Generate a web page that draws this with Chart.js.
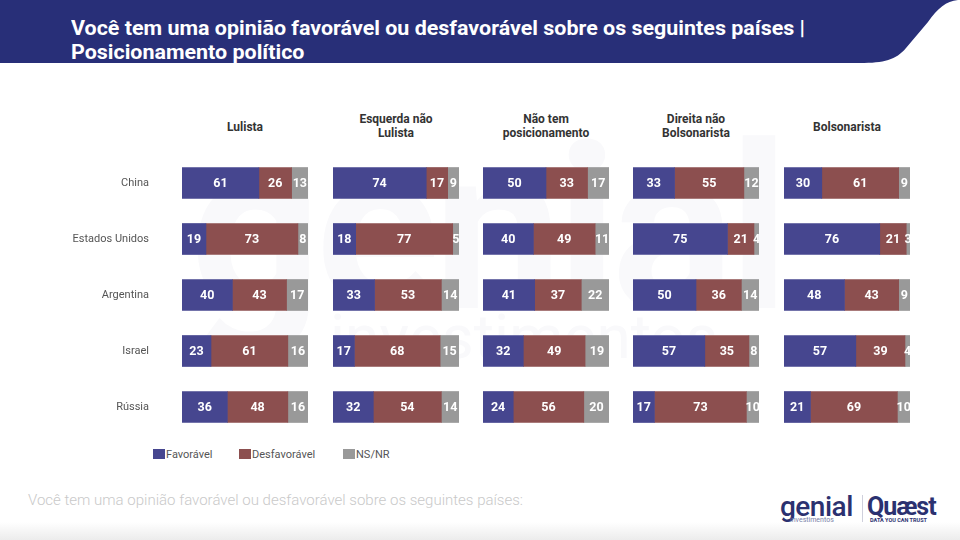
<!DOCTYPE html>
<html lang="pt-BR">
<head>
<meta charset="utf-8">
<title>Opinião sobre países por posicionamento político</title>
<script src="https://cdn.jsdelivr.net/npm/chart.js@4.4.0/dist/chart.umd.min.js"></script>
<style>
  html, body { margin: 0; padding: 0; }
  body { width: 960px; height: 540px; position: relative; overflow: hidden; background: #fff; font-family: Roboto, 'Noto Sans', sans-serif; }
  #banner { position: absolute; left: 0; top: 0; }
  .title { position: absolute; left: 71px; color: #fff; font-weight: 700; font-size: 20px; white-space: nowrap; transform-origin: 0 50%; }
  .head { position: absolute; top: 112px; width: 150px; text-align: center; font-weight: 700; font-size: 12px; line-height: 14px; color: #333; }
  .panel { position: absolute; top: 155px; height: 280px; }
  #legend { position: absolute; top: 448px; left: 153px; font-size: 11px; color: #555; }
  #legend span { position: absolute; white-space: nowrap; line-height: 14px; }
  #legend i { display: inline-block; width: 12px; height: 10px; vertical-align: -1px; margin-right: 1px; }
  #footer { position: absolute; left: 28px; top: 491px; font-size: 15px; font-weight: 300; color: #c9c9c9; white-space: nowrap; }
  #strip { position: absolute; left: 0; top: 522px; width: 960px; height: 18px; background: linear-gradient(#ffffff, #ececec); }
  .logo { position: absolute; color: #2b3170; font-weight: 700; white-space: nowrap; }
  #mark { position: absolute; left: 190px; top: 95px; font-size: 230px; font-weight: 700; color: #f9f9fb; letter-spacing: -6px; white-space: nowrap; }
  #mark2 { position: absolute; left: 330px; top: 300px; font-size: 62px; font-weight: 400; color: #f9f9fb; white-space: nowrap; }
</style>
</head>
<body>
<div id="mark">genial</div>
<div id="mark2">investimentos</div>
<svg id="banner" width="960" height="70">
  <path d="M0,0 H958 C946,1 938,8 928,22 L906,48 C896,60 884,63 860,63 H0 Z" fill="#282f78"/>
</svg>
<div class="title" id="t1" style="top:16px">Você tem uma opinião favorável ou desfavorável sobre os seguintes países |</div>
<div class="title" id="t2" style="top:40px">Posicionamento político</div>

<div id="heads"></div>
<div id="panels"></div>

<div id="legend"></div>
<div id="footer">Você tem uma opinião favorável ou desfavorável sobre os seguintes países:</div>

<div class="logo" style="left:780px;top:490px;font-size:28px;font-weight:500;letter-spacing:-0.5px;">genial</div>
<div class="logo" style="left:790px;top:516px;font-size:7px;font-weight:400;color:#7a7fa8;">investimentos</div>
<div style="position:absolute;left:862px;top:495px;width:1px;height:28px;background:#cfd0dc;"></div>
<div class="logo" style="left:867px;top:492px;font-size:25px;letter-spacing:-1px;">Quæst</div>
<div class="logo" style="left:870px;top:517px;font-size:5.5px;">DATA YOU CAN TRUST</div>
<div id="strip"></div>

<script>
const countries = ['China', 'Estados Unidos', 'Argentina', 'Israel', 'Rússia'];
const groups = [['Lulista'], ['Esquerda não', 'Lulista'], ['Não tem', 'posicionamento'], ['Direita não', 'Bolsonarista'], ['Bolsonarista']];
const seriesNames = ['Favorável', 'Desfavorável', 'NS/NR'];
const seriesColors = ['#46468f', '#8c4f4f', '#999999'];

// um array por série, uma linha por grupo político
const favoravel = [
  [61, 19, 40, 23, 36],
  [74, 18, 33, 17, 32],
  [50, 40, 41, 32, 24],
  [33, 75, 50, 57, 17],
  [30, 76, 48, 57, 21]
];
const desfavoravel = [
  [26, 73, 43, 61, 48],
  [17, 77, 53, 68, 54],
  [33, 49, 37, 49, 56],
  [55, 21, 36, 35, 73],
  [61, 21, 43, 39, 69]
];
const nsnr = [
  [13, 8, 17, 16, 16],
  [9, 5, 14, 15, 14],
  [17, 11, 22, 19, 20],
  [12, 4, 14, 8, 10],
  [9, 3, 9, 4, 10]
];

const barLeft = [182, 333, 483, 633, 784];
const barWidth = 126;

Chart.defaults.font.family = 'Roboto, "Noto Sans", sans-serif';
Chart.defaults.animation = false;

// rótulos brancos no centro de cada segmento, cortados na área do gráfico
const segmentLabels = {
  id: 'segmentLabels',
  afterDatasetsDraw(chart) {
    const ctx = chart.ctx;
    const area = chart.chartArea;
    ctx.save();
    ctx.beginPath();
    ctx.rect(area.left, area.top, area.right - area.left, area.bottom - area.top);
    ctx.clip();
    ctx.font = 'bold 12.5px Roboto, "Noto Sans", sans-serif';
    ctx.fillStyle = '#ffffff';
    ctx.textAlign = 'center';
    ctx.textBaseline = 'middle';
    chart.data.datasets.forEach((ds, i) => {
      chart.getDatasetMeta(i).data.forEach((bar, j) => {
        const v = ds.data[j];
        const x = (bar.x + bar.base) / 2;
        ctx.fillText(String(v), x, bar.y + 1);
      });
    });
    ctx.restore();
  }
};

function makePanel(g) {
  const first = g === 0;
  const left = first ? 0 : barLeft[g] - 12;
  const width = first ? barLeft[0] + barWidth + 12 : barWidth + 24;

  const head = document.createElement('div');
  head.className = 'head';
  head.style.left = (barLeft[g] + barWidth / 2 - 75) + 'px';
  if (groups[g].length === 1) head.style.top = '120px';
  head.innerHTML = groups[g].join('<br>');
  document.getElementById('heads').appendChild(head);

  const wrap = document.createElement('div');
  wrap.className = 'panel';
  wrap.style.left = left + 'px';
  wrap.style.width = width + 'px';
  const canvas = document.createElement('canvas');
  wrap.appendChild(canvas);
  document.getElementById('panels').appendChild(wrap);

  const values = [favoravel[g], desfavoravel[g], nsnr[g]];

  new Chart(canvas, {
    type: 'bar',
    data: {
      labels: countries,
      datasets: seriesNames.map((name, i) => ({
        label: name,
        data: values[i],
        backgroundColor: seriesColors[i],
        borderWidth: 0,
        barThickness: 31
      }))
    },
    options: {
      indexAxis: 'y',
      responsive: true,
      maintainAspectRatio: false,
      layout: { padding: { left: first ? 60 : 12, right: 12, top: 0, bottom: 0 } },
      plugins: {
        legend: { display: false },
        tooltip: { enabled: false }
      },
      scales: {
        x: {
          stacked: true,
          min: 0,
          max: 100,
          display: false
        },
        y: {
          stacked: true,
          display: first,
          // marcas de tick invisíveis só para afastar os nomes das barras
          grid: { display: true, drawOnChartArea: false, drawTicks: true, tickLength: 33, color: 'rgba(0,0,0,0)' },
          border: { display: false },
          ticks: {
            color: '#555555',
            font: { size: 11 },
            padding: 0
          },
          afterFit(scale) {
            if (first) {
              scale.width = 122;
              scale.paddingTop = 0;
              scale.paddingBottom = 0;
            }
          }
        }
      }
    },
    plugins: [segmentLabels]
  });
}

function buildLegend() {
  const legend = document.getElementById('legend');
  const offsets = [0, 86, 190];
  seriesNames.forEach((name, i) => {
    const s = document.createElement('span');
    s.style.left = offsets[i] + 'px';
    s.innerHTML = '<i style="background:' + seriesColors[i] + '"></i>' + name;
    legend.appendChild(s);
  });
}

function fitTitle() {
  const t1 = document.getElementById('t1');
  const t2 = document.getElementById('t2');
  const k = 734 / t1.getBoundingClientRect().width;
  t1.style.transform = 'scaleX(' + k + ')';
  t2.style.transform = 'scaleX(' + k + ')';
  const f = document.getElementById('footer');
  f.style.transformOrigin = '0 50%';
  f.style.transform = 'scaleX(' + (495 / f.getBoundingClientRect().width) + ')';
}

function draw() {
  fitTitle();
  buildLegend();
  for (let g = 0; g < groups.length; g++) makePanel(g);
}

if (document.fonts && document.fonts.ready) {
  document.fonts.ready.then(draw);
} else {
  draw();
}
</script>
</body>
</html>
